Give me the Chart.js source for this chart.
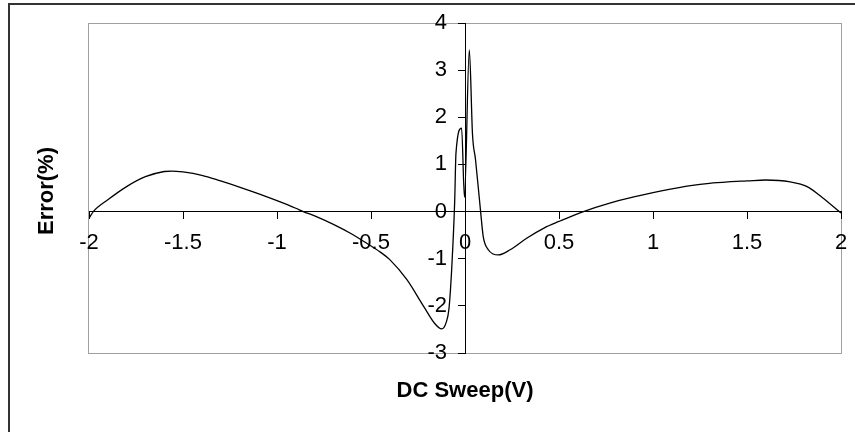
<!DOCTYPE html>
<html>
<head>
<meta charset="utf-8">
<script src="https://cdn.jsdelivr.net/npm/chart.js@4/dist/chart.umd.min.js"></script>
<style>
  html, body { margin: 0; padding: 0; background: #fff; overflow: hidden; }
  #chart { display: block; }
</style>
</head>
<body>
<canvas id="chart" width="855" height="432"></canvas>
<script>
// DC sweep voltage (V) and the error (%)
const sweepV = [-2.0, -1.977, -1.9, -1.8, -1.7, -1.6, -1.56, -1.5, -1.4, -1.3, -1.2, -1.1, -1.0, -0.9, -0.86,
  -0.8, -0.7, -0.6, -0.54, -0.45, -0.4, -0.31, -0.22, -0.16, -0.124, -0.1, -0.085, -0.07, -0.055, -0.048,
  -0.018, -0.003, 0.023, 0.04, 0.056, 0.083, 0.097, 0.124, 0.15, 0.177, 0.24, 0.33, 0.42, 0.5, 0.63,
  0.77, 0.91, 1.0, 1.1, 1.2, 1.3, 1.4, 1.5, 1.6, 1.73, 1.82, 1.9, 2.0];
const errorPct = [-0.14, 0, 0.25, 0.53, 0.74, 0.85, 0.86, 0.84, 0.77, 0.65, 0.52, 0.38, 0.23, 0.07, 0,
  -0.09, -0.27, -0.48, -0.63, -0.86, -1.02, -1.44, -2.01, -2.38, -2.49, -2.35, -2.05, -1.16, 0.2, 1.24,
  1.77, 0.3, 3.43, 1.63, 1.1, 0, -0.53, -0.81, -0.9, -0.92, -0.81, -0.56, -0.35, -0.21, 0,
  0.18, 0.32, 0.40, 0.48, 0.55, 0.60, 0.63, 0.65, 0.67, 0.63, 0.53, 0.30, -0.03];

const xTicks = [-2, -1.5, -1, -0.5, 0, 0.5, 1, 1.5, 2];
const yTicks = [-3, -2, -1, 0, 1, 2, 3, 4];

const xTitle = "DC Sweep(V)";
const yTitle = "Error(%)";

const FONT = "'Liberation Sans', Arial, sans-serif";
Chart.defaults.font.family = FONT;
Chart.defaults.font.size = 22;
Chart.defaults.color = "#000";

const setTicks = (vals) => (scale) => { scale.ticks = vals.map(v => ({ value: v })); };
const noPad = (scale) => {
  scale.paddingLeft = 0; scale.paddingRight = 0;
  scale.paddingTop = 0; scale.paddingBottom = 0;
};
const plainLabel = (v) => String(v);

// frame, plot border and axis titles
const decor = {
  id: "decor",
  beforeDraw(chart) {
    const { ctx, chartArea: a } = chart;
    ctx.save();
    ctx.strokeStyle = "#333";
    ctx.lineWidth = 2;
    ctx.strokeRect(9, 4, 900, 500);
    ctx.strokeStyle = "#a0a0a0";
    ctx.lineWidth = 1;
    ctx.strokeRect(a.left - 0.5, a.top + 0.5, a.right - a.left + 1, a.bottom - a.top);
    ctx.restore();
  },
  afterDraw(chart) {
    const { ctx, chartArea: a } = chart;
    ctx.save();
    ctx.fillStyle = "#000";
    ctx.font = "bold 22px " + FONT;
    ctx.textAlign = "center";
    ctx.textBaseline = "middle";
    ctx.fillText(xTitle, chart.scales.x.getPixelForValue(0), 391);
    ctx.translate(47, (a.top + a.bottom) / 2 + 3);
    ctx.rotate(-Math.PI / 2);
    ctx.fillText(yTitle, 0, 0);
    ctx.restore();
  }
};

new Chart(document.getElementById("chart"), {
  type: "line",
  data: {
    datasets: [{
      data: sweepV.map((v, i) => ({ x: v, y: errorPct[i] })),
      borderColor: "#000",
      borderWidth: 1.3,
      pointRadius: 0,
      fill: false,
      cubicInterpolationMode: "monotone",
      xAxisID: "x",
      yAxisID: "y"
    }]
  },
  options: {
    responsive: false,
    animation: false,
    layout: { padding: { left: 89, right: 14, top: 23, bottom: 79 } },
    plugins: { legend: { display: false }, tooltip: { enabled: false } },
    scales: {
      x: {
        type: "linear",
        min: -2, max: 2,
        position: { y: 0 },
        afterBuildTicks: setTicks(xTicks),
        afterFit: noPad,
        grid: { drawOnChartArea: false, drawTicks: true, tickLength: 7, color: "#000" },
        border: { display: true, color: "#000", width: 1 },
        ticks: { padding: 11, maxRotation: 0, autoSkip: false, callback: plainLabel }
      },
      y: {
        type: "linear",
        min: -3, max: 4,
        position: { x: 0 },
        afterBuildTicks: setTicks(yTicks),
        afterFit: noPad,
        grid: { drawOnChartArea: false, drawTicks: true, tickLength: 7, color: "#000" },
        border: { display: true, color: "#000", width: 1 },
        ticks: { display: false }
      },
      yLabels: {
        axis: "y",
        type: "linear",
        min: -3, max: 4,
        position: { x: -0.096 },
        afterBuildTicks: setTicks(yTicks),
        afterFit: noPad,
        grid: { display: false },
        border: { display: false },
        ticks: { autoSkip: false, callback: plainLabel }
      }
    }
  },
  plugins: [decor]
});
</script>
</body>
</html>
